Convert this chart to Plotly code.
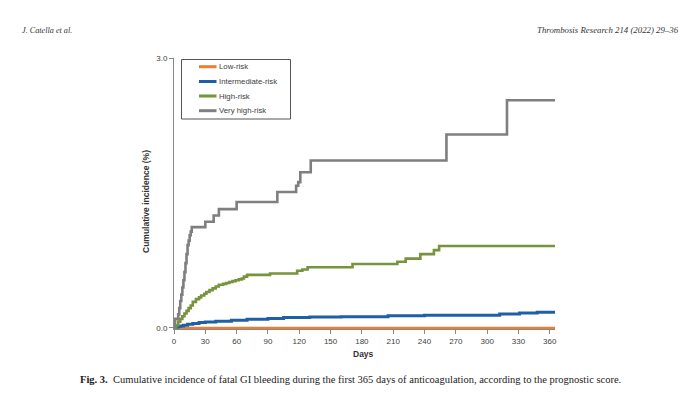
import plotly.graph_objects as go

# ---------------- data ----------------
series_names = ["Low-risk", "Intermediate-risk", "High-risk", "Very high-risk"]

low_days = [0, 365]
low_vals = [0.0, 0.0]

inter_days = [0, 2, 4, 6, 9, 13, 18, 24, 30, 40, 55, 70, 90, 105, 130, 160, 205, 240, 312, 331, 348, 365]
inter_vals = [0, 0.01, 0.015, 0.02, 0.03, 0.04, 0.05, 0.06, 0.065, 0.075, 0.085, 0.095, 0.105, 0.115,
              0.12, 0.125, 0.135, 0.14, 0.155, 0.165, 0.175, 0.175]

high_days = [0, 2, 4, 6, 8, 10, 12, 14, 16, 18, 21, 24, 26, 29, 31, 34, 37, 40, 43, 47, 50, 53, 56,
             59, 62, 65, 67, 70, 92, 118, 123, 128, 171, 214, 222, 236, 249, 254, 365]
high_vals = [0, 0.03, 0.07, 0.1, 0.13, 0.16, 0.19, 0.22, 0.25, 0.29, 0.32, 0.34, 0.36, 0.38, 0.40,
             0.42, 0.44, 0.46, 0.48, 0.49, 0.50, 0.51, 0.52, 0.53, 0.54, 0.55, 0.57, 0.59, 0.605,
             0.635, 0.65, 0.675, 0.71, 0.735, 0.77, 0.82, 0.865, 0.91, 0.91]

vhigh_days = [0, 1, 4, 5, 6, 7, 8, 9, 10, 11, 12, 13, 14, 15, 16, 17, 30, 38, 43, 60, 99, 117, 119,
              121, 131, 261, 319, 365]
vhigh_vals = [0, 0.1, 0.15, 0.22, 0.3, 0.37, 0.45, 0.53, 0.62, 0.72, 0.82, 0.92, 0.97, 1.03, 1.07,
              1.12, 1.18, 1.25, 1.32, 1.40, 1.51, 1.58, 1.62, 1.73, 1.86, 2.15, 2.53, 2.53]

x_ticks = [0, 30, 60, 90, 120, 150, 180, 210, 240, 270, 300, 330, 360]
y_ticks = [0, 3]
y_ticktext = ["0.0", "3.0"]

header_left = "J. Catella et al."
header_right = "Thrombosis Research 214 (2022) 29–36"
caption = ("<b>Fig. 3.</b>  Cumulative incidence of fatal GI bleeding during the first 365 days of "
           "anticoagulation, according to the prognostic score.")
x_title = "Days"
y_title = "Cumulative incidence (%)"

# ---------------- layout geometry ----------------
OFF = 8  # page body margin offset
W, H = 700, 396
PW, PH = 381, 271
L, T = 174 - OFF, 58 - OFF
R, B = W - L - PW, H - T - PH


def px(x):
    return (x - OFF - L) / PW


def py(y):
    return 1 - (y - OFF - T) / PH


SANS = "Liberation Sans Narrow, Liberation Sans, Arial, sans-serif"
SERIF = "Liberation Serif, DejaVu Serif, Times New Roman, serif"

colors = ["#ED7D31", "#1F5FA8", "#77933C", "#7F7F7F"]
widths = [2.2, 3, 2.6, 2.6]
data = [(low_days, low_vals), (inter_days, inter_vals), (high_days, high_vals), (vhigh_days, vhigh_vals)]

fig = go.Figure()
for name, (d, v), c, w in zip(series_names, data, colors, widths):
    fig.add_trace(go.Scatter(x=d, y=v, mode="lines", name=name, showlegend=False,
                             line=dict(color=c, width=w, shape="hv")))

fig.update_layout(
    width=W, height=H,
    margin=dict(l=L, r=R, t=T, b=B, pad=0),
    paper_bgcolor="white", plot_bgcolor="white",
    font=dict(family=SANS, size=8, color="#404040"),
    showlegend=False,
    xaxis=dict(range=[0, 365], tickvals=x_ticks, ticks="outside", ticklen=4, tickwidth=1,
               tickcolor="#888888", showline=True, linecolor="#888888", linewidth=1,
               showgrid=False, zeroline=False, tickfont=dict(size=8, color="#404040")),
    yaxis=dict(range=[-0.012, 3.0], tickvals=y_ticks, ticktext=y_ticktext, ticks="outside",
               ticklen=4, tickwidth=1, tickcolor="#888888", showline=True, linecolor="#888888",
               linewidth=1, showgrid=False, zeroline=False, tickfont=dict(size=8, color="#404040")),
)

# legend box (drawn manually to match the compact spacing)
fig.add_shape(type="rect", xref="paper", yref="paper", x0=px(181.5), x1=px(290.5), y0=py(119),
              y1=py(59.5), line=dict(color="#555555", width=1), fillcolor="white", layer="above")
row_y = [66.7, 81.5, 96, 110.7]
for name, c, yy in zip(series_names, colors, row_y):
    fig.add_shape(type="line", xref="paper", yref="paper", x0=px(199), x1=px(216.5), y0=py(yy),
                  y1=py(yy), line=dict(color=c, width=3), layer="above")
    fig.add_annotation(x=px(216.5), y=py(yy), xref="paper", yref="paper", text=name,
                       showarrow=False, xanchor="left", yanchor="middle",
                       font=dict(family=SANS, size=7.8, color="#404040"))

fig.add_annotation(x=px(363), y=py(354), xref="paper", yref="paper", text=f"<b>{x_title}</b>",
                   showarrow=False, font=dict(family=SANS, size=8.5, color="#333333"),
                   xanchor="center", yanchor="middle")
fig.add_annotation(x=px(146), y=py(202), xref="paper", yref="paper", text=f"<b>{y_title}</b>",
                   showarrow=False, textangle=-90, font=dict(family=SANS, size=8.5, color="#333333"),
                   xanchor="center", yanchor="middle")
fig.add_annotation(x=px(20), y=py(30), xref="paper", yref="paper", text=f"<i>{header_left}</i>",
                   showarrow=False, font=dict(family=SERIF, size=8.2, color="#333333"),
                   xanchor="left", yanchor="middle")
fig.add_annotation(x=px(681), y=py(30), xref="paper", yref="paper", text=f"<i>{header_right}</i>",
                   showarrow=False, font=dict(family=SERIF, size=8.8, color="#333333"),
                   xanchor="right", yanchor="middle")
fig.add_annotation(x=px(350), y=py(380), xref="paper", yref="paper", text=caption,
                   showarrow=False, font=dict(family=SERIF, size=10.5, color="#222222"),
                   xanchor="center", yanchor="middle")

fig.write_html("out.html")
